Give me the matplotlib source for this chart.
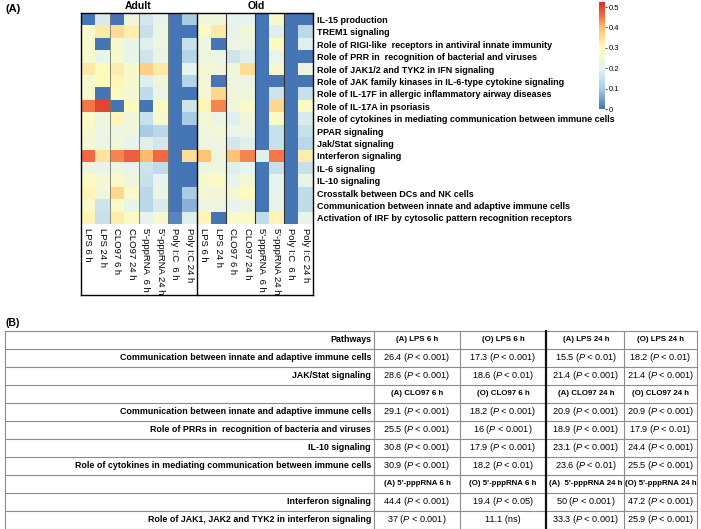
# /// script
# requires-python = ">=3.12"
# dependencies = [
#     "matplotlib",
# ]
# ///
import matplotlib.pyplot as plt
import numpy as np
from matplotlib.colors import LinearSegmentedColormap

# ---- (A) heatmap data ----
pathways = [
    "IL-15 production",
    "TREM1 signaling",
    "Role of RIGI-like  receptors in antiviral innate immunity",
    "Role of PRR in  recognition of bacterial and viruses",
    "Role of JAK1/2 and TYK2 in IFN signaling",
    "Role of JAK family kinases in IL-6-type cytokine signaling",
    "Role of IL-17F in allergic inflammatory airway diseases",
    "Role of IL-17A in psoriasis",
    "Role of cytokines in mediating communication between immune cells",
    "PPAR signaling",
    "Jak/Stat signaling",
    "Interferon signaling",
    "IL-6 signaling",
    "IL-10 signaling",
    "Crosstalk between DCs and NK cells",
    "Communication between innate and adaptive immune cells",
    "Activation of IRF by cytosolic pattern recognition receptors",
]
conditions = ["LPS 6 h", "LPS 24 h", "CLO97 6 h", "CLO97 24 h",
              "5'-pppRNA  6 h", "5'-pppRNA 24 h", "Poly I:C  6 h", "Poly I:C 24 h"]

adult_values = [
    [0.00, 0.18, 0.00, 0.24, 0.17, 0.20, 0.00, 0.10],
    [0.28, 0.33, 0.35, 0.32, 0.15, 0.22, 0.00, 0.00],
    [0.27, 0.00, 0.27, 0.21, 0.19, 0.23, 0.00, 0.15],
    [0.27, 0.21, 0.27, 0.21, 0.16, 0.21, 0.00, 0.12],
    [0.33, 0.30, 0.32, 0.27, 0.37, 0.33, 0.00, 0.20],
    [0.27, 0.30, 0.31, 0.27, 0.19, 0.25, 0.00, 0.12],
    [0.27, 0.00, 0.29, 0.26, 0.14, 0.22, 0.00, 0.00],
    [0.45, 0.50, 0.00, 0.30, 0.00, 0.29, 0.00, 0.16],
    [0.28, 0.23, 0.31, 0.24, 0.15, 0.27, 0.00, 0.10],
    [0.27, 0.22, 0.23, 0.24, 0.10, 0.13, 0.00, 0.00],
    [0.26, 0.22, 0.25, 0.20, 0.19, 0.17, 0.00, 0.00],
    [0.46, 0.34, 0.44, 0.47, 0.40, 0.46, 0.00, 0.35],
    [0.23, 0.21, 0.24, 0.21, 0.16, 0.14, 0.00, 0.00],
    [0.29, 0.26, 0.28, 0.24, 0.15, 0.20, 0.00, 0.00],
    [0.31, 0.24, 0.36, 0.28, 0.13, 0.22, 0.00, 0.10],
    [0.28, 0.16, 0.28, 0.21, 0.13, 0.18, 0.00, 0.07],
    [0.31, 0.15, 0.32, 0.29, 0.20, 0.27, 0.02, 0.19],
]
old_values = [
    [0.24, 0.24, 0.20, 0.20, 0.00, 0.27, 0.00, 0.00],
    [0.28, 0.33, 0.21, 0.25, 0.00, 0.19, 0.00, 0.13],
    [0.23, 0.00, 0.22, 0.23, 0.00, 0.30, 0.00, 0.19],
    [0.23, 0.22, 0.16, 0.19, 0.00, 0.21, 0.00, 0.00],
    [0.26, 0.25, 0.24, 0.35, 0.00, 0.27, 0.00, 0.23],
    [0.26, 0.00, 0.23, 0.23, 0.00, 0.00, 0.00, 0.00],
    [0.26, 0.36, 0.25, 0.24, 0.00, 0.16, 0.00, 0.15],
    [0.31, 0.44, 0.24, 0.28, 0.00, 0.36, 0.00, 0.29],
    [0.26, 0.22, 0.19, 0.25, 0.00, 0.29, 0.00, 0.18],
    [0.24, 0.26, 0.22, 0.23, 0.00, 0.15, 0.00, 0.15],
    [0.23, 0.23, 0.17, 0.19, 0.00, 0.15, 0.00, 0.13],
    [0.39, 0.24, 0.39, 0.44, 0.19, 0.45, 0.00, 0.32],
    [0.23, 0.24, 0.19, 0.20, 0.00, 0.15, 0.00, 0.15],
    [0.27, 0.29, 0.21, 0.26, 0.00, 0.20, 0.00, 0.21],
    [0.26, 0.25, 0.26, 0.30, 0.00, 0.20, 0.00, 0.14],
    [0.23, 0.23, 0.20, 0.22, 0.00, 0.21, 0.00, 0.14],
    [0.31, 0.00, 0.28, 0.28, 0.14, 0.31, 0.00, 0.21],
]

# ---- (B) table data ----
row_labels = [
    "Pathways",
    "Communication between innate and adaptive immune cells",
    "JAK/Stat signaling",
    "",
    "Communication between innate and adaptive immune cells",
    "Role of PRRs in  recognition of bacteria and viruses",
    "IL-10 signaling",
    "Role of cytokines in mediating communication between immune cells",
    "",
    "Interferon signaling",
    "Role of JAK1, JAK2 and TYK2 in interferon signaling",
]
header_rows = [0, 3, 8]
col_a_early = ["(A) LPS 6 h", "26.4 (P < 0.001)", "28.6 (P < 0.001)",
               "(A) CLO97 6 h", "29.1 (P < 0.001)", "25.5 (P < 0.001)",
               "30.8 (P < 0.001)", "30.9 (P < 0.001)",
               "(A) 5'-pppRNA 6 h", "44.4 (P < 0.001)", "37 (P < 0.001)"]
col_o_early = ["(O) LPS 6 h", "17.3 (P < 0.001)", "18.6 (P < 0.01)",
               "(O) CLO97 6 h", "18.2 (P < 0.001)", "16 (P < 0.001)",
               "17.9 (P < 0.001)", "18.2 (P < 0.01)",
               "(O) 5'-pppRNA 6 h", "19.4 (P < 0.05)", "11.1 (ns)"]
col_a_late = ["(A) LPS 24 h", "15.5 (P < 0.01)", "21.4 (P < 0.001)",
              "(A) CLO97 24 h", "20.9 (P < 0.001)", "18.9 (P < 0.001)",
              "23.1 (P < 0.001)", "23.6 (P < 0.01)",
              "(A)  5'-pppRNA 24 h", "50 (P < 0.001)", "33.3 (P < 0.001)"]
col_o_late = ["(O) LPS 24 h", "18.2 (P < 0.01)", "21.4 (P < 0.001)",
              "(O) CLO97 24 h", "20.9 (P < 0.001)", "17.9 (P < 0.01)",
              "24.4 (P < 0.001)", "25.5 (P < 0.001)",
              "(O) 5'-pppRNA 24 h", "47.2 (P < 0.001)", "25.9 (P < 0.001)"]

W, H = 701, 529


def main() -> None:
    plt.rcParams["font.family"] = ["Liberation Sans", "DejaVu Sans"]
    plt.rcParams["mathtext.fontset"] = "custom"
    plt.rcParams["mathtext.it"] = "Liberation Sans:italic"
    plt.rcParams["mathtext.rm"] = "Liberation Sans"

    fig = plt.figure(figsize=(W / 100, H / 100), dpi=100)

    # heatmap, placed in pixel box
    x0, x1, y0, y1 = 80.7, 312.7, 13.3, 224.0
    ax = fig.add_axes([x0 / W, 1 - y1 / H, (x1 - x0) / W, (y1 - y0) / H])
    data = np.hstack([np.array(adult_values), np.array(old_values)])
    cmap = LinearSegmentedColormap.from_list(
        "heat",
        [(0.0, "#4575b4"), (0.19, "#a9cde5"), (0.38, "#e6f3f0"),
         (0.57, "#fefbc0"), (0.76, "#fdc070"), (0.87, "#f46d43"),
         (1.0, "#d73027")],
    )
    vmax = 0.525
    im = ax.imshow(data, cmap=cmap, vmin=0, vmax=vmax, aspect="auto",
                   interpolation="nearest")
    ax.set_xticks(range(16))
    ax.set_xticklabels(conditions + conditions, rotation=270, fontsize=6.8,
                       ha="center", va="top")
    ax.set_yticks(range(len(pathways)))
    ax.set_yticklabels(pathways, fontsize=6.5, fontweight="bold")
    ax.yaxis.tick_right()
    ax.tick_params(length=0, pad=3)
    ax.tick_params(axis="x", pad=3)
    for s in ax.spines.values():
        s.set_visible(False)

    # group separators
    for k in (2, 4, 6):
        ax.axvline(k - 0.5, color="#777766", lw=0.6)
    for k in (10, 12, 14):
        ax.axvline(k - 0.5, color="#333333", lw=0.8)
    box_bottom = -(295 - y1) / (y1 - y0)
    tr = ax.transAxes
    for xx in (0, 0.5, 1):
        ax.plot([xx, xx], [1, box_bottom], color="black", lw=1.0,
                transform=tr, clip_on=False)
    ax.plot([0, 1], [1, 1], color="black", lw=1.0, transform=tr, clip_on=False)
    ax.plot([0, 1], [box_bottom, box_bottom], color="black", lw=1.0,
            transform=tr, clip_on=False)

    fig.text(138 / W, 1 - 6 / H, "Adult", fontsize=7.5, fontweight="bold",
             ha="center", va="center")
    fig.text(256 / W, 1 - 6 / H, "Old", fontsize=7.5, fontweight="bold",
             ha="center", va="center")
    fig.text(5 / W, 1 - 9 / H, "(A)", fontsize=8, fontweight="bold",
             ha="left", va="center")

    # colorbar
    cax = fig.add_axes([598.7 / W, 1 - 109 / H, 6.3 / W, 107 / H])
    cb = fig.colorbar(im, cax=cax)
    cb.outline.set_visible(False)
    cb.set_ticks([0, 0.1, 0.2, 0.3, 0.4, 0.5])
    cb.set_ticklabels(["0", "0.1", "0.2", "0.3", "0.4", "0.5"])
    cax.tick_params(labelsize=5.5, length=1.5, width=0.5, pad=1.5)

    # ---- (B) table ----
    tab = fig.add_axes([0, 0, 1, 1])
    tab.set_xlim(0, W)
    tab.set_ylim(H, 0)
    tab.axis("off")
    fig.text(5 / W, 1 - 323 / H, "(B)", fontsize=7.5, fontweight="bold",
             ha="left", va="center")

    col_edges = [5, 374, 460, 546, 624, 697]
    top, row_h = 330.5, 18.0
    n = len(row_labels)
    grey = "#8c8c8c"
    for i in range(n + 1):
        tab.plot([col_edges[0], col_edges[-1]], [top + i * row_h] * 2,
                 color=grey, lw=0.8)
    for j, xe in enumerate(col_edges):
        if j == 3:
            tab.plot([xe, xe], [top, top + n * row_h], color="#111111", lw=1.6)
        else:
            tab.plot([xe, xe], [top, top + n * row_h], color=grey, lw=0.8)

    cols = [col_a_early, col_o_early, col_a_late, col_o_late]
    for i in range(n):
        yc = top + (i + 0.5) * row_h
        tab.text(col_edges[1] - 3, yc, row_labels[i], fontsize=6.4,
                 fontweight="bold", ha="right", va="center")
        for j, col in enumerate(cols):
            xc = (col_edges[j + 1] + col_edges[j + 2]) / 2 + (1 if j == 2 else 0)
            if i in header_rows:
                tab.text(xc, yc, col[i], fontsize=5.7,
                         fontweight="bold", ha="center", va="center")
            else:
                txt = col[i].replace("(P", r"($\mathit{P}$")
                tab.text(xc, yc, txt, fontsize=6.6, ha="center", va="center")

    fig.savefig("out.png", dpi=100)


if __name__ == "__main__":
    main()
